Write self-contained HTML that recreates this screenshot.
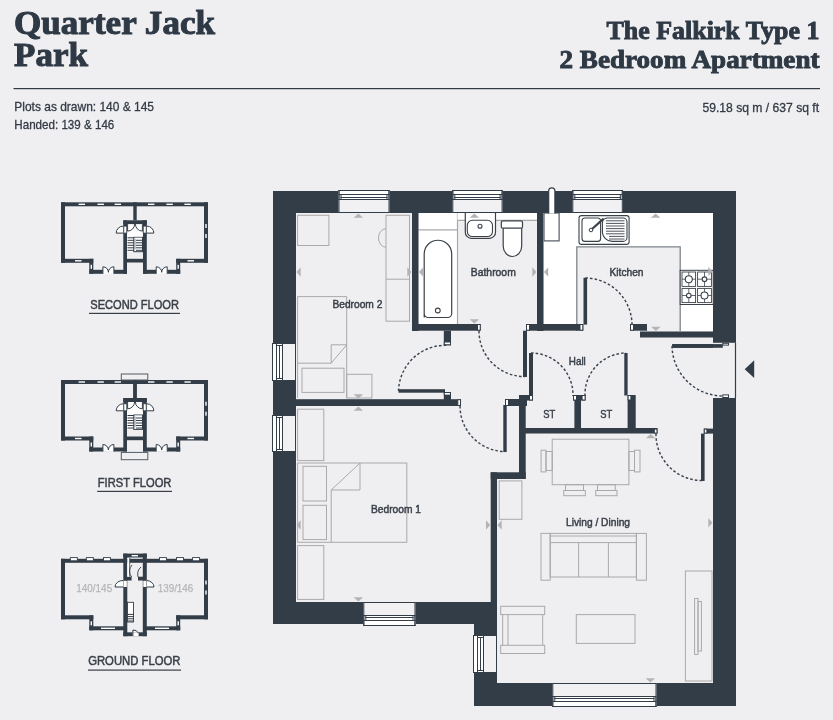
<!DOCTYPE html>
<html><head><meta charset="utf-8"><style>
html,body{margin:0;padding:0;background:#efeff1;width:833px;height:720px;overflow:hidden}
svg{display:block;will-change:transform}
</style></head><body>
<svg width="833" height="720" viewBox="0 0 833 720">
<rect width="833" height="720" fill="#efeff1"/>
<text x="14" y="34.1" font-family="'Liberation Serif', serif" font-size="33" font-weight="bold" fill="#2e3945" text-anchor="start" textLength="201" lengthAdjust="spacingAndGlyphs" stroke="#2e3945" stroke-width="1.0" >Quarter Jack</text>
<text x="14" y="66.2" font-family="'Liberation Serif', serif" font-size="33" font-weight="bold" fill="#2e3945" text-anchor="start" textLength="74" lengthAdjust="spacingAndGlyphs" stroke="#2e3945" stroke-width="1.0" >Park</text>
<text x="819.5" y="39.3" font-family="'Liberation Serif', serif" font-size="25" font-weight="bold" fill="#2e3945" text-anchor="end" textLength="213" lengthAdjust="spacingAndGlyphs" stroke="#2e3945" stroke-width="0.9" >The Falkirk Type 1</text>
<text x="819.5" y="67.5" font-family="'Liberation Serif', serif" font-size="25" font-weight="bold" fill="#2e3945" text-anchor="end" textLength="260" lengthAdjust="spacingAndGlyphs" stroke="#2e3945" stroke-width="0.9" >2 Bedroom Apartment</text>
<rect x="13.5" y="88" width="806.5" height="1.2" fill="#2e3945" />
<text x="14.3" y="111" font-family="'Liberation Sans', sans-serif" font-size="13" font-weight="normal" fill="#333a44" text-anchor="start" textLength="139.7" lengthAdjust="spacingAndGlyphs" stroke="#333a44" stroke-width="0.3" >Plots as drawn: 140 &amp; 145</text>
<text x="14.3" y="129" font-family="'Liberation Sans', sans-serif" font-size="13" font-weight="normal" fill="#333a44" text-anchor="start" textLength="100" lengthAdjust="spacingAndGlyphs" stroke="#333a44" stroke-width="0.3" >Handed: 139 &amp; 146</text>
<text x="819.1" y="111.8" font-family="'Liberation Sans', sans-serif" font-size="13" font-weight="normal" fill="#333a44" text-anchor="end" textLength="116.7" lengthAdjust="spacingAndGlyphs" stroke="#333a44" stroke-width="0.3" >59.18 sq m / 637 sq ft</text>
<rect x="61" y="202.3" width="147" height="4.0" fill="#333d48" />
<rect x="61" y="202.3" width="4" height="60.5" fill="#333d48" />
<rect x="204" y="202.3" width="4" height="60.5" fill="#333d48" />
<rect x="61" y="258.8" width="32.3" height="4.0" fill="#333d48" />
<rect x="176.2" y="258.8" width="31.8" height="4.0" fill="#333d48" />
<rect x="89.3" y="258.8" width="4.0" height="15.0" fill="#333d48" />
<rect x="176.2" y="258.8" width="4.0" height="15.0" fill="#333d48" />
<rect x="89.3" y="269.8" width="37.7" height="4.0" fill="#333d48" />
<rect x="143" y="269.8" width="37.2" height="4.0" fill="#333d48" />
<rect x="90.6" y="264.8" width="1.4" height="4.0" fill="#fff" />
<rect x="177.5" y="264.8" width="1.4" height="4.0" fill="#fff" />
<rect x="205.3" y="224.0" width="1.4" height="4.0" fill="#fff" />
<rect x="205.3" y="234.0" width="1.4" height="4.0" fill="#fff" />
<rect x="78.6" y="203.60000000000002" width="6.4" height="1.4" fill="#fff" />
<rect x="97.5" y="203.60000000000002" width="6.4" height="1.4" fill="#fff" />
<rect x="114.6" y="203.60000000000002" width="6.4" height="1.4" fill="#fff" />
<rect x="148" y="203.60000000000002" width="6.4" height="1.4" fill="#fff" />
<rect x="166.4" y="203.60000000000002" width="6.4" height="1.4" fill="#fff" />
<rect x="184.4" y="203.60000000000002" width="6.4" height="1.4" fill="#fff" />
<rect x="75" y="260.1" width="6.5" height="1.4" fill="#fff" />
<rect x="187.5" y="260.1" width="6.5" height="1.4" fill="#fff" />
<rect x="133.3" y="202.3" width="3.4" height="18.0" fill="#333d48" />
<rect x="123.3" y="220.3" width="23.5" height="4.0" fill="#333d48" />
<rect x="123.3" y="220.3" width="3.7" height="53.5" fill="#333d48" />
<rect x="143" y="220.3" width="3.8" height="53.5" fill="#333d48" />
<rect x="127" y="258.8" width="16" height="3.7" fill="#333d48" />
<rect x="127" y="236.60000000000002" width="16" height="15.1" fill="#fff" />
<line x1="127.5" y1="237.8" x2="134" y2="237.8" stroke="#333d48" stroke-width="1" />
<line x1="127.5" y1="240.3" x2="134" y2="240.3" stroke="#333d48" stroke-width="1" />
<line x1="127.5" y1="242.8" x2="134" y2="242.8" stroke="#333d48" stroke-width="1" />
<line x1="127.5" y1="245.3" x2="134" y2="245.3" stroke="#333d48" stroke-width="1" />
<line x1="127.5" y1="247.8" x2="134" y2="247.8" stroke="#333d48" stroke-width="1" />
<line x1="127.5" y1="250.3" x2="134" y2="250.3" stroke="#333d48" stroke-width="1" />
<line x1="136" y1="240.3" x2="142.5" y2="240.3" stroke="#333d48" stroke-width="1" />
<line x1="136" y1="242.8" x2="142.5" y2="242.8" stroke="#333d48" stroke-width="1" />
<line x1="136" y1="245.3" x2="142.5" y2="245.3" stroke="#333d48" stroke-width="1" />
<line x1="136" y1="247.8" x2="142.5" y2="247.8" stroke="#333d48" stroke-width="1" />
<line x1="136" y1="250.3" x2="142.5" y2="250.3" stroke="#333d48" stroke-width="1" />
<rect x="133.8" y="237.10000000000002" width="8.7" height="14.6" fill="none" stroke="#333d48" stroke-width="1"/>
<path d="M135,249.3 V238.8" fill="none" stroke="#9a9ea3" stroke-width="1.2"/>
<rect x="127" y="224.3" width="16" height="12.3" fill="#fff" />
<path d="M123.3,233.10000000000002 H116.2 A7,7 0 0 1 123.3,226.10000000000002" fill="#fff" stroke="#333d48" stroke-width="1"/>
<path d="M146.8,233.10000000000002 H153.8 A7,7 0 0 0 146.8,226.10000000000002" fill="#fff" stroke="#333d48" stroke-width="1"/>
<rect x="123.8" y="226.10000000000002" width="3" height="7" fill="#fff" stroke="#333d48" stroke-width="0.8"/>
<rect x="143.2" y="226.10000000000002" width="3" height="7" fill="#fff" stroke="#333d48" stroke-width="0.8"/>
<path d="M127.6,224.10000000000002 V231.10000000000002 A7,7 0 0 0 134.6,224.10000000000002 M142.4,224.10000000000002 V231.10000000000002 A7,7 0 0 1 135.4,224.10000000000002" fill="none" stroke="#333d48" stroke-width="1"/>
<rect x="102.9" y="269.8" width="11.0" height="4.0" fill="#fff" />
<path d="M102.9,273.8 V266.8 A5.5,5.5 0 0 1 108.4,272.3 A5.5,5.5 0 0 1 113.9,266.8 V273.8" fill="#fff" stroke="#333d48" stroke-width="1"/>
<rect x="156.2" y="269.8" width="11.0" height="4.0" fill="#fff" />
<path d="M156.2,273.8 V266.8 A5.5,5.5 0 0 1 161.7,272.3 A5.5,5.5 0 0 1 167.2,266.8 V273.8" fill="#fff" stroke="#333d48" stroke-width="1"/>
<rect x="61" y="380.0" width="147" height="4.0" fill="#333d48" />
<rect x="61" y="380.0" width="4" height="60.5" fill="#333d48" />
<rect x="204" y="380.0" width="4" height="60.5" fill="#333d48" />
<rect x="61" y="436.5" width="32.3" height="4.0" fill="#333d48" />
<rect x="176.2" y="436.5" width="31.8" height="4.0" fill="#333d48" />
<rect x="89.3" y="436.5" width="4.0" height="15.0" fill="#333d48" />
<rect x="176.2" y="436.5" width="4.0" height="15.0" fill="#333d48" />
<rect x="89.3" y="447.5" width="37.7" height="4.0" fill="#333d48" />
<rect x="143" y="447.5" width="37.2" height="4.0" fill="#333d48" />
<rect x="90.6" y="442.5" width="1.4" height="4.0" fill="#fff" />
<rect x="177.5" y="442.5" width="1.4" height="4.0" fill="#fff" />
<rect x="205.3" y="401.7" width="1.4" height="4.0" fill="#fff" />
<rect x="205.3" y="411.7" width="1.4" height="4.0" fill="#fff" />
<rect x="78.6" y="381.3" width="6.4" height="1.4" fill="#fff" />
<rect x="97.5" y="381.3" width="6.4" height="1.4" fill="#fff" />
<rect x="114.6" y="381.3" width="6.4" height="1.4" fill="#fff" />
<rect x="148" y="381.3" width="6.4" height="1.4" fill="#fff" />
<rect x="166.4" y="381.3" width="6.4" height="1.4" fill="#fff" />
<rect x="184.4" y="381.3" width="6.4" height="1.4" fill="#fff" />
<rect x="75" y="437.8" width="6.5" height="1.4" fill="#fff" />
<rect x="187.5" y="437.8" width="6.5" height="1.4" fill="#fff" />
<rect x="133.3" y="380.0" width="3.4" height="18.0" fill="#333d48" />
<rect x="123.3" y="398.0" width="23.5" height="4.0" fill="#333d48" />
<rect x="123.3" y="398.0" width="3.7" height="53.5" fill="#333d48" />
<rect x="143" y="398.0" width="3.8" height="53.5" fill="#333d48" />
<rect x="127" y="436.5" width="16" height="3.7" fill="#333d48" />
<rect x="127" y="414.3" width="16" height="15.1" fill="#fff" />
<line x1="127.5" y1="415.5" x2="134" y2="415.5" stroke="#333d48" stroke-width="1" />
<line x1="127.5" y1="418.0" x2="134" y2="418.0" stroke="#333d48" stroke-width="1" />
<line x1="127.5" y1="420.5" x2="134" y2="420.5" stroke="#333d48" stroke-width="1" />
<line x1="127.5" y1="423.0" x2="134" y2="423.0" stroke="#333d48" stroke-width="1" />
<line x1="127.5" y1="425.5" x2="134" y2="425.5" stroke="#333d48" stroke-width="1" />
<line x1="127.5" y1="428.0" x2="134" y2="428.0" stroke="#333d48" stroke-width="1" />
<line x1="136" y1="418.0" x2="142.5" y2="418.0" stroke="#333d48" stroke-width="1" />
<line x1="136" y1="420.5" x2="142.5" y2="420.5" stroke="#333d48" stroke-width="1" />
<line x1="136" y1="423.0" x2="142.5" y2="423.0" stroke="#333d48" stroke-width="1" />
<line x1="136" y1="425.5" x2="142.5" y2="425.5" stroke="#333d48" stroke-width="1" />
<line x1="136" y1="428.0" x2="142.5" y2="428.0" stroke="#333d48" stroke-width="1" />
<rect x="133.8" y="414.8" width="8.7" height="14.6" fill="none" stroke="#333d48" stroke-width="1"/>
<path d="M135,427.0 V416.5" fill="none" stroke="#9a9ea3" stroke-width="1.2"/>
<rect x="127" y="402.0" width="16" height="12.3" fill="#fff" />
<path d="M123.3,410.8 H116.2 A7,7 0 0 1 123.3,403.8" fill="#fff" stroke="#333d48" stroke-width="1"/>
<path d="M146.8,410.8 H153.8 A7,7 0 0 0 146.8,403.8" fill="#fff" stroke="#333d48" stroke-width="1"/>
<rect x="123.8" y="403.8" width="3" height="7" fill="#fff" stroke="#333d48" stroke-width="0.8"/>
<rect x="143.2" y="403.8" width="3" height="7" fill="#fff" stroke="#333d48" stroke-width="0.8"/>
<path d="M127.6,401.8 V408.8 A7,7 0 0 0 134.6,401.8 M142.4,401.8 V408.8 A7,7 0 0 1 135.4,401.8" fill="none" stroke="#333d48" stroke-width="1"/>
<rect x="102.9" y="447.5" width="11.0" height="4.0" fill="#fff" />
<path d="M102.9,451.5 V444.5 A5.5,5.5 0 0 1 108.4,450.0 A5.5,5.5 0 0 1 113.9,444.5 V451.5" fill="#fff" stroke="#333d48" stroke-width="1"/>
<rect x="156.2" y="447.5" width="11.0" height="4.0" fill="#fff" />
<path d="M156.2,451.5 V444.5 A5.5,5.5 0 0 1 161.7,450.0 A5.5,5.5 0 0 1 167.2,444.5 V451.5" fill="#fff" stroke="#333d48" stroke-width="1"/>
<rect x="121.3" y="374" width="26.5" height="6" fill="#efeff1" stroke="#555b63" stroke-width="1"/>
<rect x="121.3" y="452.4" width="26.5" height="7.3" fill="#efeff1" stroke="#555b63" stroke-width="1"/>
<rect x="133.3" y="380" width="3.4" height="18" fill="#333d48" />
<rect x="61" y="558.8" width="147" height="4.0" fill="#333d48" />
<rect x="61" y="558.8" width="4" height="60.5" fill="#333d48" />
<rect x="204" y="558.8" width="4" height="60.5" fill="#333d48" />
<rect x="61" y="615.3" width="32.3" height="4.0" fill="#333d48" />
<rect x="176.2" y="615.3" width="31.8" height="4.0" fill="#333d48" />
<rect x="89.3" y="615.3" width="4.0" height="15.0" fill="#333d48" />
<rect x="176.2" y="615.3" width="4.0" height="15.0" fill="#333d48" />
<rect x="89.3" y="626.3" width="37.7" height="4.0" fill="#333d48" />
<rect x="143" y="626.3" width="37.2" height="4.0" fill="#333d48" />
<rect x="90.6" y="621.3" width="1.4" height="4.0" fill="#fff" />
<rect x="177.5" y="621.3" width="1.4" height="4.0" fill="#fff" />
<rect x="205.3" y="580.5" width="1.4" height="4.0" fill="#fff" />
<rect x="205.3" y="590.5" width="1.4" height="4.0" fill="#fff" />
<rect x="70.3" y="557.5999999999999" width="7" height="3.2" fill="#fff" stroke="#333d48" stroke-width="0.9"/>
<rect x="86.3" y="557.5999999999999" width="7" height="3.2" fill="#fff" stroke="#333d48" stroke-width="0.9"/>
<rect x="103.5" y="557.5999999999999" width="7" height="3.2" fill="#fff" stroke="#333d48" stroke-width="0.9"/>
<rect x="159.5" y="557.5999999999999" width="7" height="3.2" fill="#fff" stroke="#333d48" stroke-width="0.9"/>
<rect x="176.5" y="557.5999999999999" width="7" height="3.2" fill="#fff" stroke="#333d48" stroke-width="0.9"/>
<rect x="192.6" y="557.5999999999999" width="7" height="3.2" fill="#fff" stroke="#333d48" stroke-width="0.9"/>
<rect x="101" y="627.5999999999999" width="14" height="1.4" fill="#fff" />
<rect x="155" y="627.5999999999999" width="14" height="1.4" fill="#fff" />
<rect x="123.3" y="553.6" width="23.5" height="3.9" fill="#333d48" />
<rect x="123.3" y="553.6" width="4.0" height="82.6" fill="#333d48" />
<rect x="142.8" y="553.6" width="4.0" height="82.6" fill="#333d48" />
<rect x="123.3" y="632.3" width="23.5" height="3.9" fill="#333d48" />
<rect x="131.6" y="555" width="6.4" height="1.4" fill="#fff" />
<rect x="127" y="576.7" width="4.6" height="3.8" fill="#333d48" />
<rect x="138" y="576.7" width="5" height="3.8" fill="#333d48" />
<rect x="127.3" y="558" width="2.4" height="18.7" fill="#fff" />
<line x1="129.7" y1="558" x2="129.7" y2="576.7" stroke="#333d48" stroke-width="0.8" />
<path d="M131.6,577 A9,9 0 0 1 132,565" fill="none" stroke="#333d48" stroke-width="0.9"/>
<path d="M138,577 A7,9 0 0 1 141,567" fill="none" stroke="#333d48" stroke-width="0.9"/>
<path d="M123.3,587 H115 A8,6.5 0 0 1 123.3,580.5" fill="#fff" stroke="#333d48" stroke-width="1"/>
<path d="M146.8,587 H154 A8,6.5 0 0 0 146.8,580.5" fill="#fff" stroke="#333d48" stroke-width="1"/>
<rect x="123.8" y="580.8" width="3.0" height="6.2" fill="#fff" />
<rect x="143.3" y="580.8" width="3.0" height="6.2" fill="#fff" />
<rect x="127.5" y="602.3" width="6" height="19.7" fill="#fff" stroke="#333d48" stroke-width="0.9"/>
<line x1="127.5" y1="614.4" x2="134" y2="614.4" stroke="#333d48" stroke-width="1" />
<line x1="127.5" y1="616.6" x2="134" y2="616.6" stroke="#333d48" stroke-width="1" />
<line x1="127.5" y1="618.8" x2="134" y2="618.8" stroke="#333d48" stroke-width="1" />
<line x1="127.5" y1="621.0" x2="134" y2="621.0" stroke="#333d48" stroke-width="1" />
<rect x="132.5" y="632.3" width="6.1" height="3.9" fill="#fff" />
<path d="M132.9,636 V630 A5.5,5 0 0 1 138.4,633" fill="none" stroke="#333d48" stroke-width="1"/>
<text x="94.2" y="591.7" font-family="'Liberation Sans', sans-serif" font-size="11.5" font-weight="normal" fill="#b5b5b8" text-anchor="middle" textLength="36" lengthAdjust="spacingAndGlyphs" stroke="#b5b5b8" stroke-width="0.25" >140/145</text>
<text x="175.5" y="591.7" font-family="'Liberation Sans', sans-serif" font-size="11.5" font-weight="normal" fill="#b5b5b8" text-anchor="middle" textLength="35.5" lengthAdjust="spacingAndGlyphs" stroke="#b5b5b8" stroke-width="0.25" >139/146</text>
<text x="134.6" y="308.5" font-family="'Liberation Sans', sans-serif" font-size="12.5" font-weight="normal" fill="#3a3f47" text-anchor="middle" textLength="88.7" lengthAdjust="spacingAndGlyphs" stroke="#3a3f47" stroke-width="0.5" >SECOND FLOOR</text>
<rect x="89" y="312.8" width="91" height="1.2" fill="#3a3f47" />
<text x="134.6" y="486.8" font-family="'Liberation Sans', sans-serif" font-size="12.5" font-weight="normal" fill="#3a3f47" text-anchor="middle" textLength="73.6" lengthAdjust="spacingAndGlyphs" stroke="#3a3f47" stroke-width="0.5" >FIRST FLOOR</text>
<rect x="97.2" y="490.8" width="74.8" height="1.2" fill="#3a3f47" />
<text x="134.3" y="664.8" font-family="'Liberation Sans', sans-serif" font-size="12.5" font-weight="normal" fill="#3a3f47" text-anchor="middle" textLength="92.2" lengthAdjust="spacingAndGlyphs" stroke="#3a3f47" stroke-width="0.5" >GROUND FLOOR</text>
<rect x="88" y="669.5" width="93" height="1.2" fill="#3a3f47" />
<rect x="418.5" y="213" width="118.5" height="111" fill="#efeff1" />
<rect x="418.5" y="213" width="39.0" height="111" fill="#fff" />
<line x1="418.5" y1="229.8" x2="457.5" y2="229.8" stroke="#a9a9ab" stroke-width="1.2" />
<line x1="457.5" y1="213" x2="457.5" y2="324" stroke="#a9a9ab" stroke-width="1.2" />
<rect x="457.5" y="213" width="79.5" height="7.3" fill="#fff" />
<line x1="457.5" y1="220.3" x2="537" y2="220.3" stroke="#a9a9ab" stroke-width="1.2" />
<rect x="543.5" y="213" width="169.5" height="118" fill="#fff" />
<rect x="576.8" y="246.8" width="103.4" height="84.2" fill="#efeff1" />
<path d="M576.8,331 V246.8 H680.2 V331" fill="none" stroke="#7f858b" stroke-width="1.3"/>
<rect x="273" y="191" width="463" height="22" fill="#333d48" />
<rect x="273" y="191" width="23" height="433" fill="#333d48" />
<rect x="273" y="602" width="224" height="22" fill="#333d48" />
<rect x="474" y="602" width="23" height="104" fill="#333d48" />
<rect x="474" y="683" width="262" height="23" fill="#333d48" />
<rect x="713" y="191" width="23" height="515" fill="#333d48" />
<rect x="412" y="213" width="6.5" height="118" fill="#333d48" />
<rect x="412" y="324" width="68.7" height="6.7" fill="#333d48" />
<rect x="537" y="213" width="6.5" height="118" fill="#333d48" />
<rect x="526" y="324" width="57.3" height="6.7" fill="#333d48" />
<rect x="630" y="324" width="17" height="6.7" fill="#333d48" />
<rect x="640" y="331.5" width="73" height="6.0" fill="#333d48" />
<rect x="443.8" y="330.7" width="7.2" height="14.6" fill="#333d48" />
<rect x="443.8" y="392" width="7.2" height="14" fill="#333d48" />
<rect x="398.5" y="389.2" width="46.5" height="3.5" fill="#333d48" />
<rect x="296" y="399.2" width="165" height="6.8" fill="#333d48" />
<rect x="505" y="399" width="22" height="7" fill="#333d48" />
<rect x="519" y="395" width="6.7" height="84" fill="#333d48" />
<rect x="490.7" y="472.3" width="35.0" height="6.7" fill="#333d48" />
<rect x="490.7" y="472.3" width="6.3" height="129.7" fill="#333d48" />
<rect x="519" y="395" width="14" height="5.5" fill="#333d48" />
<rect x="573" y="395" width="12.6" height="5.5" fill="#333d48" />
<rect x="574.4" y="395" width="6.6" height="34" fill="#333d48" />
<rect x="627.6" y="395" width="8.1" height="34" fill="#333d48" />
<rect x="519" y="428" width="138.5" height="5.5" fill="#333d48" />
<rect x="703.8" y="428.6" width="9.5" height="5.0" fill="#333d48" />
<rect x="523" y="330.7" width="4" height="46.3" fill="#333d48" />
<rect x="529" y="353" width="4" height="42.5" fill="#333d48" />
<rect x="624.3" y="353" width="3.3" height="42.5" fill="#333d48" />
<rect x="583.5" y="277.8" width="3.6" height="46.8" fill="#333d48" />
<rect x="672.2" y="344.1" width="50.6" height="3.7" fill="#333d48" />
<rect x="701" y="433.6" width="3.6" height="47.4" fill="#333d48" />
<rect x="503.3" y="405" width="3.4" height="47" fill="#333d48" />
<rect x="477.5" y="324.5" width="2.7" height="5.7" fill="#fff" stroke="#333d48" stroke-width="1"/>
<rect x="526.5" y="324.5" width="3" height="5.7" fill="#fff" stroke="#333d48" stroke-width="1"/>
<rect x="580.0" y="324.5" width="2.8" height="5.7" fill="#fff" stroke="#333d48" stroke-width="1"/>
<rect x="630.5" y="324.5" width="3" height="5.7" fill="#fff" stroke="#333d48" stroke-width="1"/>
<rect x="444.3" y="342.0" width="6.2" height="2.8" fill="#fff" stroke="#333d48" stroke-width="1"/>
<rect x="444.3" y="392.5" width="6.2" height="2.6" fill="#fff" stroke="#333d48" stroke-width="1"/>
<rect x="457.8" y="399.7" width="2.7" height="5.8" fill="#fff" stroke="#333d48" stroke-width="1"/>
<rect x="505.5" y="399.5" width="3" height="6" fill="#fff" stroke="#333d48" stroke-width="1"/>
<rect x="529.5" y="395.5" width="3" height="4.5" fill="#fff" stroke="#333d48" stroke-width="1"/>
<rect x="573.5" y="395.5" width="3" height="4.5" fill="#fff" stroke="#333d48" stroke-width="1"/>
<rect x="582.1" y="395.5" width="3.0" height="4.5" fill="#fff" stroke="#333d48" stroke-width="1"/>
<rect x="628.1" y="395.5" width="2.8" height="4.5" fill="#fff" stroke="#333d48" stroke-width="1"/>
<rect x="654.3" y="429.1" width="2.7" height="4.0" fill="#fff" stroke="#333d48" stroke-width="1"/>
<rect x="704.3" y="429.1" width="2.6" height="4.0" fill="#fff" stroke="#333d48" stroke-width="1"/>
<rect x="338.5" y="190" width="51.0" height="23" fill="#f1f1f3" />
<rect x="338.5" y="190" width="51.0" height="10" fill="#fff" />
<rect x="338.5" y="190" width="51.0" height="1" fill="#333d48" />
<rect x="338.5" y="194" width="51.0" height="1" fill="#333d48" />
<rect x="340.5" y="197" width="47.0" height="1" fill="#333d48" />
<rect x="338.5" y="199" width="51.0" height="1" fill="#333d48" />
<rect x="338.5" y="190" width="1.0" height="10" fill="#333d48" />
<rect x="388.5" y="190" width="1.0" height="10" fill="#333d48" />
<rect x="340.5" y="194" width="1.0" height="6" fill="#333d48" />
<rect x="386.5" y="194" width="1.0" height="6" fill="#333d48" />
<rect x="338.5" y="212" width="51.0" height="1" fill="#333d48" />
<rect x="338.5" y="190" width="1.0" height="23" fill="#333d48" />
<rect x="388.5" y="190" width="1.0" height="23" fill="#333d48" />
<rect x="452.3" y="190" width="50.3" height="23" fill="#f1f1f3" />
<rect x="452.3" y="190" width="50.3" height="10" fill="#fff" />
<rect x="452.3" y="190" width="50.3" height="1" fill="#333d48" />
<rect x="452.3" y="194" width="50.3" height="1" fill="#333d48" />
<rect x="454.3" y="197" width="46.3" height="1" fill="#333d48" />
<rect x="452.3" y="199" width="50.3" height="1" fill="#333d48" />
<rect x="452.3" y="190" width="1.0" height="10" fill="#333d48" />
<rect x="501.6" y="190" width="1.0" height="10" fill="#333d48" />
<rect x="454.3" y="194" width="1.0" height="6" fill="#333d48" />
<rect x="499.6" y="194" width="1.0" height="6" fill="#333d48" />
<rect x="452.3" y="212" width="50.3" height="1" fill="#333d48" />
<rect x="452.3" y="190" width="1.0" height="23" fill="#333d48" />
<rect x="501.6" y="190" width="1.0" height="23" fill="#333d48" />
<rect x="572.3" y="190" width="50.5" height="23" fill="#f1f1f3" />
<rect x="572.3" y="190" width="50.5" height="10" fill="#fff" />
<rect x="572.3" y="190" width="50.5" height="1" fill="#333d48" />
<rect x="572.3" y="194" width="50.5" height="1" fill="#333d48" />
<rect x="574.3" y="197" width="46.5" height="1" fill="#333d48" />
<rect x="572.3" y="199" width="50.5" height="1" fill="#333d48" />
<rect x="572.3" y="190" width="1.0" height="10" fill="#333d48" />
<rect x="621.8" y="190" width="1.0" height="10" fill="#333d48" />
<rect x="574.3" y="194" width="1.0" height="6" fill="#333d48" />
<rect x="619.8" y="194" width="1.0" height="6" fill="#333d48" />
<rect x="572.3" y="212" width="50.5" height="1" fill="#333d48" />
<rect x="572.3" y="190" width="1.0" height="23" fill="#333d48" />
<rect x="621.8" y="190" width="1.0" height="23" fill="#333d48" />
<rect x="272" y="343" width="24" height="38" fill="#f1f1f3" />
<rect x="272" y="343" width="11" height="38" fill="#fff" />
<rect x="272" y="343" width="1" height="38" fill="#333d48" />
<rect x="276" y="343" width="1" height="38" fill="#333d48" />
<rect x="279" y="345" width="1" height="34" fill="#333d48" />
<rect x="282" y="343" width="1" height="38" fill="#333d48" />
<rect x="272" y="343" width="24" height="1" fill="#333d48" />
<rect x="272" y="380" width="24" height="1" fill="#333d48" />
<rect x="276" y="345" width="7" height="1" fill="#333d48" />
<rect x="276" y="378" width="7" height="1" fill="#333d48" />
<rect x="295" y="343" width="1" height="38" fill="#333d48" />
<rect x="272" y="415" width="24" height="37" fill="#f1f1f3" />
<rect x="272" y="415" width="11" height="37" fill="#fff" />
<rect x="272" y="415" width="1" height="37" fill="#333d48" />
<rect x="276" y="415" width="1" height="37" fill="#333d48" />
<rect x="279" y="417" width="1" height="33" fill="#333d48" />
<rect x="282" y="415" width="1" height="37" fill="#333d48" />
<rect x="272" y="415" width="24" height="1" fill="#333d48" />
<rect x="272" y="451" width="24" height="1" fill="#333d48" />
<rect x="276" y="417" width="7" height="1" fill="#333d48" />
<rect x="276" y="449" width="7" height="1" fill="#333d48" />
<rect x="295" y="415" width="1" height="37" fill="#333d48" />
<rect x="473" y="635" width="24" height="38" fill="#f1f1f3" />
<rect x="473" y="635" width="11" height="38" fill="#fff" />
<rect x="473" y="635" width="1" height="38" fill="#333d48" />
<rect x="477" y="635" width="1" height="38" fill="#333d48" />
<rect x="480" y="637" width="1" height="34" fill="#333d48" />
<rect x="483" y="635" width="1" height="38" fill="#333d48" />
<rect x="473" y="635" width="24" height="1" fill="#333d48" />
<rect x="473" y="672" width="24" height="1" fill="#333d48" />
<rect x="477" y="637" width="7" height="1" fill="#333d48" />
<rect x="477" y="670" width="7" height="1" fill="#333d48" />
<rect x="496" y="635" width="1" height="38" fill="#333d48" />
<rect x="363.3" y="602" width="52.2" height="24" fill="#f1f1f3" />
<rect x="363.3" y="615" width="52.2" height="11" fill="#fff" />
<rect x="363.3" y="625" width="52.2" height="1" fill="#333d48" />
<rect x="363.3" y="620" width="52.2" height="1" fill="#333d48" />
<rect x="365.3" y="617" width="48.2" height="1" fill="#333d48" />
<rect x="363.3" y="615" width="52.2" height="1" fill="#333d48" />
<rect x="363.3" y="615" width="1.0" height="11" fill="#333d48" />
<rect x="414.5" y="615" width="1.0" height="11" fill="#333d48" />
<rect x="365.3" y="615" width="1.0" height="6" fill="#333d48" />
<rect x="412.5" y="615" width="1.0" height="6" fill="#333d48" />
<rect x="363.3" y="602" width="52.2" height="1" fill="#333d48" />
<rect x="363.3" y="602" width="1.0" height="24" fill="#333d48" />
<rect x="414.5" y="602" width="1.0" height="24" fill="#333d48" />
<rect x="552.3" y="683" width="104.2" height="24" fill="#f1f1f3" />
<rect x="552.3" y="696" width="104.2" height="11" fill="#fff" />
<rect x="552.3" y="706" width="104.2" height="1" fill="#333d48" />
<rect x="552.3" y="701" width="104.2" height="1" fill="#333d48" />
<rect x="554.3" y="698" width="100.2" height="1" fill="#333d48" />
<rect x="552.3" y="696" width="104.2" height="1" fill="#333d48" />
<rect x="552.3" y="696" width="1.0" height="11" fill="#333d48" />
<rect x="655.5" y="696" width="1.0" height="11" fill="#333d48" />
<rect x="554.3" y="696" width="1.0" height="6" fill="#333d48" />
<rect x="653.5" y="696" width="1.0" height="6" fill="#333d48" />
<rect x="552.3" y="683" width="104.2" height="1" fill="#333d48" />
<rect x="552.3" y="683" width="1.0" height="24" fill="#333d48" />
<rect x="655.5" y="683" width="1.0" height="24" fill="#333d48" />
<rect x="713" y="342.8" width="23" height="55.2" fill="#efeff1" />
<rect x="672.2" y="344.1" width="50.6" height="3.7" fill="#333d48" />
<rect x="722.8" y="343.3" width="5.7" height="1.8" fill="#fff" stroke="#333d48" stroke-width="1"/>
<rect x="722.8" y="394.9" width="5.7" height="2.6" fill="#fff" stroke="#333d48" stroke-width="1"/>
<line x1="735.5" y1="342.8" x2="735.5" y2="398" stroke="#333d48" stroke-width="1.2" />
<polygon points="754.2,360.3 754.2,378.1 744.7,369.2" fill="#333d48"/>
<rect x="543.5" y="213" width="16.1" height="28.4" fill="#fff" />
<rect x="544" y="213" width="15.1" height="27.9" fill="#fff" stroke="#444c55" stroke-width="1.1"/>
<path d="M548.7,213.5 V191 A3.1,3.1 0 0 1 554.9,191 V213.5" fill="#fff" stroke="#333d48" stroke-width="1.2"/>
<path d="M398.5,391 A47,47 0 0 1 447,345.3" fill="none" stroke="#3a4450" stroke-width="1.45" stroke-dasharray="2.6 2.1"/>
<path d="M479,331 A45.5,45.5 0 0 0 525,376.5" fill="none" stroke="#3a4450" stroke-width="1.45" stroke-dasharray="2.6 2.1"/>
<path d="M460,406 A45.5,45.5 0 0 0 505,451.5" fill="none" stroke="#3a4450" stroke-width="1.45" stroke-dasharray="2.6 2.1"/>
<path d="M531,353 A42,42 0 0 1 573,396" fill="none" stroke="#3a4450" stroke-width="1.45" stroke-dasharray="2.6 2.1"/>
<path d="M585,396 A41.5,41.5 0 0 1 626,353" fill="none" stroke="#3a4450" stroke-width="1.45" stroke-dasharray="2.6 2.1"/>
<path d="M585.3,278 A47,47 0 0 1 632,325" fill="none" stroke="#3a4450" stroke-width="1.45" stroke-dasharray="2.6 2.1"/>
<path d="M672,346 A51,51 0 0 0 722.5,396" fill="none" stroke="#3a4450" stroke-width="1.45" stroke-dasharray="2.6 2.1"/>
<path d="M656,433.6 A46,46 0 0 0 702,480.5" fill="none" stroke="#3a4450" stroke-width="1.45" stroke-dasharray="2.6 2.1"/>
<path d="M424.2,317.5 V254 A13.75,13.75 0 0 1 451.7,254 V313.5 A4,4 0 0 1 447.7,317.5 H428.2 A4,4 0 0 1 424.2,313.5 Z" fill="#fff" stroke="#3b4149" stroke-width="1.2"/>
<circle cx="437.8" cy="310.5" r="2.4" fill="none" stroke="#3b4149" stroke-width="1.1"/>
<path d="M465.3,213 V232 A6,6 0 0 0 471.3,238.3 H489.5 A6,6 0 0 0 495.5,232 V213" fill="#fff" stroke="#3b4149" stroke-width="1.2"/>
<rect x="467.3" y="220.3" width="25.2" height="16.2" rx="5" fill="#fff" stroke="#3b4149" stroke-width="1.1"/>
<circle cx="480" cy="226.3" r="2" fill="none" stroke="#3b4149" stroke-width="1.1"/>
<path d="M503.2,228 V246 A9.25,10.5 0 0 0 521.7,246 V228" fill="#fff" stroke="#3b4149" stroke-width="1.2"/>
<rect x="501.3" y="220.8" width="21.2" height="7.4" rx="1.5" fill="#fff" stroke="#3b4149" stroke-width="1.2"/>
<rect x="579" y="215.6" width="50.1" height="28.8" rx="2.5" fill="#fff" stroke="#3b4149" stroke-width="1.1"/>
<rect x="582" y="218" width="18.6" height="23.4" rx="3" fill="#fff" stroke="#3b4149" stroke-width="1.1"/>
<path d="M607,218 H623 A4,4 0 0 1 627,222 V237.4 A4,4 0 0 1 623,241.4 H613 A10,10 0 0 1 602.4,231 V223 A5,5 0 0 1 607,218 Z" fill="#fff" stroke="#3b4149" stroke-width="1.1"/>
<line x1="606" y1="220.8" x2="624.5" y2="220.8" stroke="#3b4149" stroke-width="0.9" />
<line x1="606" y1="223.4" x2="624.5" y2="223.4" stroke="#3b4149" stroke-width="0.9" />
<line x1="606" y1="226.0" x2="624.5" y2="226.0" stroke="#3b4149" stroke-width="0.9" />
<line x1="606" y1="228.60000000000002" x2="624.5" y2="228.60000000000002" stroke="#3b4149" stroke-width="0.9" />
<line x1="606" y1="231.20000000000002" x2="624.5" y2="231.20000000000002" stroke="#3b4149" stroke-width="0.9" />
<line x1="606" y1="233.8" x2="624.5" y2="233.8" stroke="#3b4149" stroke-width="0.9" />
<line x1="609" y1="236.4" x2="624.5" y2="236.4" stroke="#3b4149" stroke-width="0.9" />
<line x1="609" y1="239.0" x2="624.5" y2="239.0" stroke="#3b4149" stroke-width="0.9" />
<line x1="591.8" y1="229.2" x2="603.6" y2="218.6" stroke="#3b4149" stroke-width="2.2" />
<circle cx="591" cy="230" r="1.8" fill="#fff" stroke="#3b4149" stroke-width="1"/>
<rect x="680.2" y="270.3" width="33" height="34.2" fill="#fff" stroke="#3b4149" stroke-width="1"/>
<rect x="682" y="272" width="13.6" height="14.4" fill="#fff" stroke="#3b4149" stroke-width="0.9"/>
<circle cx="688.8" cy="279.2" r="3.5" fill="none" stroke="#3b4149" stroke-width="1.1"/>
<line x1="688.8" y1="272" x2="688.8" y2="275.7" stroke="#3b4149" stroke-width="0.8" />
<line x1="688.8" y1="282.7" x2="688.8" y2="286.4" stroke="#3b4149" stroke-width="0.8" />
<line x1="682" y1="279.2" x2="685.3" y2="279.2" stroke="#3b4149" stroke-width="0.8" />
<line x1="692.3" y1="279.2" x2="695.6" y2="279.2" stroke="#3b4149" stroke-width="0.8" />
<rect x="697.6" y="272" width="13.8" height="14.4" fill="#fff" stroke="#3b4149" stroke-width="0.9"/>
<circle cx="704.5" cy="279.2" r="2.3" fill="none" stroke="#3b4149" stroke-width="1.1"/>
<line x1="704.5" y1="272" x2="704.5" y2="276.9" stroke="#3b4149" stroke-width="0.8" />
<line x1="704.5" y1="281.5" x2="704.5" y2="286.4" stroke="#3b4149" stroke-width="0.8" />
<line x1="697.6" y1="279.2" x2="702.2" y2="279.2" stroke="#3b4149" stroke-width="0.8" />
<line x1="706.8" y1="279.2" x2="711.4" y2="279.2" stroke="#3b4149" stroke-width="0.8" />
<rect x="682" y="288.4" width="13.6" height="14.2" fill="#fff" stroke="#3b4149" stroke-width="0.9"/>
<circle cx="688.8" cy="295.5" r="2.3" fill="none" stroke="#3b4149" stroke-width="1.1"/>
<line x1="688.8" y1="288.4" x2="688.8" y2="293.2" stroke="#3b4149" stroke-width="0.8" />
<line x1="688.8" y1="297.8" x2="688.8" y2="302.6" stroke="#3b4149" stroke-width="0.8" />
<line x1="682" y1="295.5" x2="686.5" y2="295.5" stroke="#3b4149" stroke-width="0.8" />
<line x1="691.0999999999999" y1="295.5" x2="695.6" y2="295.5" stroke="#3b4149" stroke-width="0.8" />
<rect x="697.6" y="288.4" width="13.8" height="14.2" fill="#fff" stroke="#3b4149" stroke-width="0.9"/>
<circle cx="704.5" cy="295.5" r="3.5" fill="none" stroke="#3b4149" stroke-width="1.1"/>
<line x1="704.5" y1="288.4" x2="704.5" y2="292.0" stroke="#3b4149" stroke-width="0.8" />
<line x1="704.5" y1="299.0" x2="704.5" y2="302.6" stroke="#3b4149" stroke-width="0.8" />
<line x1="697.6" y1="295.5" x2="701.0" y2="295.5" stroke="#3b4149" stroke-width="0.8" />
<line x1="708.0" y1="295.5" x2="711.4" y2="295.5" stroke="#3b4149" stroke-width="0.8" />
<rect x="297.6" y="215.3" width="31.3" height="30.2" fill="none" stroke="#a9a9ab" stroke-width="1" rx="0"/>
<rect x="386" y="215.3" width="23.5" height="105.9" fill="none" stroke="#a9a9ab" stroke-width="1" rx="0"/>
<line x1="386" y1="279.2" x2="409.5" y2="279.2" stroke="#a9a9ab" stroke-width="1" />
<path d="M386,228.7 A7.5,9.25 0 0 0 386,247.2" fill="none" stroke="#a9a9ab" stroke-width="1"/>
<path d="M346.7,296.6 H297.6 V398 M297.6,363.2 H331.2 L346.7,344.8 M331.2,363.2 V344.8 H346.7" fill="none" stroke="#a9a9ab" stroke-width="1"/>
<line x1="346.7" y1="296.6" x2="346.7" y2="398" stroke="#a9a9ab" stroke-width="1" />
<rect x="302" y="368.2" width="42" height="24.2" fill="none" stroke="#a9a9ab" stroke-width="1" rx="0"/>
<rect x="346.7" y="374.3" width="25.2" height="23.7" fill="none" stroke="#a9a9ab" stroke-width="1" rx="0"/>
<rect x="297.6" y="409.2" width="26.2" height="51.4" fill="none" stroke="#a9a9ab" stroke-width="1" rx="0"/>
<rect x="297.6" y="463" width="109.2" height="79.3" fill="none" stroke="#a9a9ab" stroke-width="1" rx="0"/>
<rect x="303" y="466.3" width="23.5" height="34.7" fill="none" stroke="#a9a9ab" stroke-width="1" rx="0"/>
<rect x="303" y="505.3" width="23.5" height="34.3" fill="none" stroke="#a9a9ab" stroke-width="1" rx="0"/>
<path d="M331.2,542.3 V490 H360 V463 M331.2,490 L360,463" fill="none" stroke="#a9a9ab" stroke-width="1"/>
<rect x="297.6" y="545.6" width="26.2" height="53.8" fill="none" stroke="#a9a9ab" stroke-width="1" rx="0"/>
<rect x="552.2" y="439.2" width="76.7" height="45.5" fill="none" stroke="#a9a9ab" stroke-width="1" rx="0"/>
<rect x="541.1" y="450.2" width="4.9" height="21.7" fill="none" stroke="#a9a9ab" stroke-width="1" rx="0"/>
<rect x="546" y="451.5" width="6.2" height="19.0" fill="none" stroke="#a9a9ab" stroke-width="1" rx="0"/>
<rect x="634.5" y="450.2" width="5.5" height="21.7" fill="none" stroke="#a9a9ab" stroke-width="1" rx="0"/>
<rect x="628.9" y="451.5" width="5.6" height="19.0" fill="none" stroke="#a9a9ab" stroke-width="1" rx="0"/>
<rect x="563.8" y="490.5" width="21.5" height="5.2" fill="none" stroke="#a9a9ab" stroke-width="1" rx="0"/>
<rect x="565.5" y="484.7" width="18.0" height="5.8" fill="none" stroke="#a9a9ab" stroke-width="1" rx="0"/>
<rect x="595.8" y="490.5" width="21.2" height="5.2" fill="none" stroke="#a9a9ab" stroke-width="1" rx="0"/>
<rect x="597.5" y="484.7" width="17.8" height="5.8" fill="none" stroke="#a9a9ab" stroke-width="1" rx="0"/>
<rect x="499.2" y="480.9" width="22.7" height="38.4" fill="none" stroke="#a9a9ab" stroke-width="1" rx="0"/>
<rect x="541" y="533.4" width="9.2" height="46.8" fill="none" stroke="#a9a9ab" stroke-width="1" rx="0"/>
<rect x="636.4" y="533.4" width="10.0" height="46.8" fill="none" stroke="#a9a9ab" stroke-width="1" rx="0"/>
<rect x="550.2" y="533.4" width="86.2" height="43.6" fill="none" stroke="#a9a9ab" stroke-width="1" rx="0"/>
<line x1="550.2" y1="536" x2="636.4" y2="536" stroke="#a9a9ab" stroke-width="1" />
<line x1="550.2" y1="542.6" x2="636.4" y2="542.6" stroke="#a9a9ab" stroke-width="1" />
<line x1="578.6" y1="542.6" x2="578.6" y2="577" stroke="#a9a9ab" stroke-width="1" />
<line x1="608.4" y1="542.6" x2="608.4" y2="577" stroke="#a9a9ab" stroke-width="1" />
<rect x="500.7" y="606.3" width="44.0" height="8.3" fill="none" stroke="#a9a9ab" stroke-width="1" rx="0"/>
<rect x="500.7" y="645.3" width="44.0" height="8.2" fill="none" stroke="#a9a9ab" stroke-width="1" rx="0"/>
<line x1="502.7" y1="614.6" x2="502.7" y2="645.3" stroke="#a9a9ab" stroke-width="1" />
<line x1="508" y1="614.6" x2="508" y2="645.3" stroke="#a9a9ab" stroke-width="1" />
<line x1="542.7" y1="614.6" x2="542.7" y2="645.3" stroke="#a9a9ab" stroke-width="1" />
<rect x="576.3" y="614.6" width="58.7" height="28.8" fill="none" stroke="#a9a9ab" stroke-width="1" rx="0"/>
<rect x="685.4" y="571" width="26.6" height="110" fill="none" stroke="#a9a9ab" stroke-width="1" rx="0"/>
<rect x="694.6" y="598.5" width="3.4" height="55.9" fill="none" stroke="#a9a9ab" stroke-width="1" rx="0"/>
<rect x="698" y="601.5" width="3.4" height="49.5" fill="none" stroke="#a9a9ab" stroke-width="1" rx="0"/>
<polygon points="353.6,217.7 363.1,217.7 358.4,213.5" fill="#b4b4b6"/>
<polygon points="353.6,394.3 363.1,394.3 358.4,398.5" fill="#b4b4b6"/>
<polygon points="353.6,410.7 363.1,410.7 358.4,406.5" fill="#b4b4b6"/>
<polygon points="353.6,597.3 363.1,597.3 358.4,601.5" fill="#b4b4b6"/>
<polygon points="300.7,267.2 300.7,276.8 296.5,272.0" fill="#b4b4b6"/>
<polygon points="407.3,267.2 407.3,276.8 411.5,272.0" fill="#b4b4b6"/>
<polygon points="423.2,267.2 423.2,276.8 419.0,272.0" fill="#b4b4b6"/>
<polygon points="469.6,217.7 479.1,217.7 474.4,213.5" fill="#b4b4b6"/>
<polygon points="469.6,319.3 479.1,319.3 474.4,323.5" fill="#b4b4b6"/>
<polygon points="532.3,267.2 532.3,276.8 536.5,272.0" fill="#b4b4b6"/>
<polygon points="548.2,267.2 548.2,276.8 544.0,272.0" fill="#b4b4b6"/>
<polygon points="650.9,217.7 660.4,217.7 655.6,213.5" fill="#b4b4b6"/>
<polygon points="651.1,326.8 660.6,326.8 655.9,331.0" fill="#b4b4b6"/>
<polygon points="708.3,266.8 708.3,276.2 712.5,271.5" fill="#b4b4b6"/>
<polygon points="300.7,520.2 300.7,529.8 296.5,525.0" fill="#b4b4b6"/>
<polygon points="486.0,520.2 486.0,529.8 490.2,525.0" fill="#b4b4b6"/>
<polygon points="501.7,520.2 501.7,529.8 497.5,525.0" fill="#b4b4b6"/>
<polygon points="708.3,518.0 708.3,527.5 712.5,522.8" fill="#b4b4b6"/>
<polygon points="645.9,438.2 655.4,438.2 650.6,434.0" fill="#b4b4b6"/>
<polygon points="645.6,678.3 655.1,678.3 650.4,682.5" fill="#b4b4b6"/>
<text x="357.4" y="308.2" font-family="'Liberation Sans', sans-serif" font-size="10.5" font-weight="normal" fill="#3a4049" text-anchor="middle" textLength="50" lengthAdjust="spacingAndGlyphs" stroke="#3a4049" stroke-width="0.45" >Bedroom 2</text>
<text x="493.3" y="275.8" font-family="'Liberation Sans', sans-serif" font-size="10.5" font-weight="normal" fill="#3a4049" text-anchor="middle" textLength="45" lengthAdjust="spacingAndGlyphs" stroke="#3a4049" stroke-width="0.45" >Bathroom</text>
<text x="626.5" y="276" font-family="'Liberation Sans', sans-serif" font-size="10.5" font-weight="normal" fill="#3a4049" text-anchor="middle" textLength="34" lengthAdjust="spacingAndGlyphs" stroke="#3a4049" stroke-width="0.45" >Kitchen</text>
<text x="577.3" y="365" font-family="'Liberation Sans', sans-serif" font-size="10.5" font-weight="normal" fill="#3a4049" text-anchor="middle" textLength="17" lengthAdjust="spacingAndGlyphs" stroke="#3a4049" stroke-width="0.45" >Hall</text>
<text x="549.3" y="417.8" font-family="'Liberation Sans', sans-serif" font-size="10.5" font-weight="normal" fill="#3a4049" text-anchor="middle" textLength="12" lengthAdjust="spacingAndGlyphs" stroke="#3a4049" stroke-width="0.45" >ST</text>
<text x="606.2" y="417.8" font-family="'Liberation Sans', sans-serif" font-size="10.5" font-weight="normal" fill="#3a4049" text-anchor="middle" textLength="12" lengthAdjust="spacingAndGlyphs" stroke="#3a4049" stroke-width="0.45" >ST</text>
<text x="396" y="513" font-family="'Liberation Sans', sans-serif" font-size="10.5" font-weight="normal" fill="#3a4049" text-anchor="middle" textLength="50" lengthAdjust="spacingAndGlyphs" stroke="#3a4049" stroke-width="0.45" >Bedroom 1</text>
<text x="598" y="526" font-family="'Liberation Sans', sans-serif" font-size="10.5" font-weight="normal" fill="#3a4049" text-anchor="middle" textLength="64" lengthAdjust="spacingAndGlyphs" stroke="#3a4049" stroke-width="0.45" >Living / Dining</text>
</svg>
</body></html>
